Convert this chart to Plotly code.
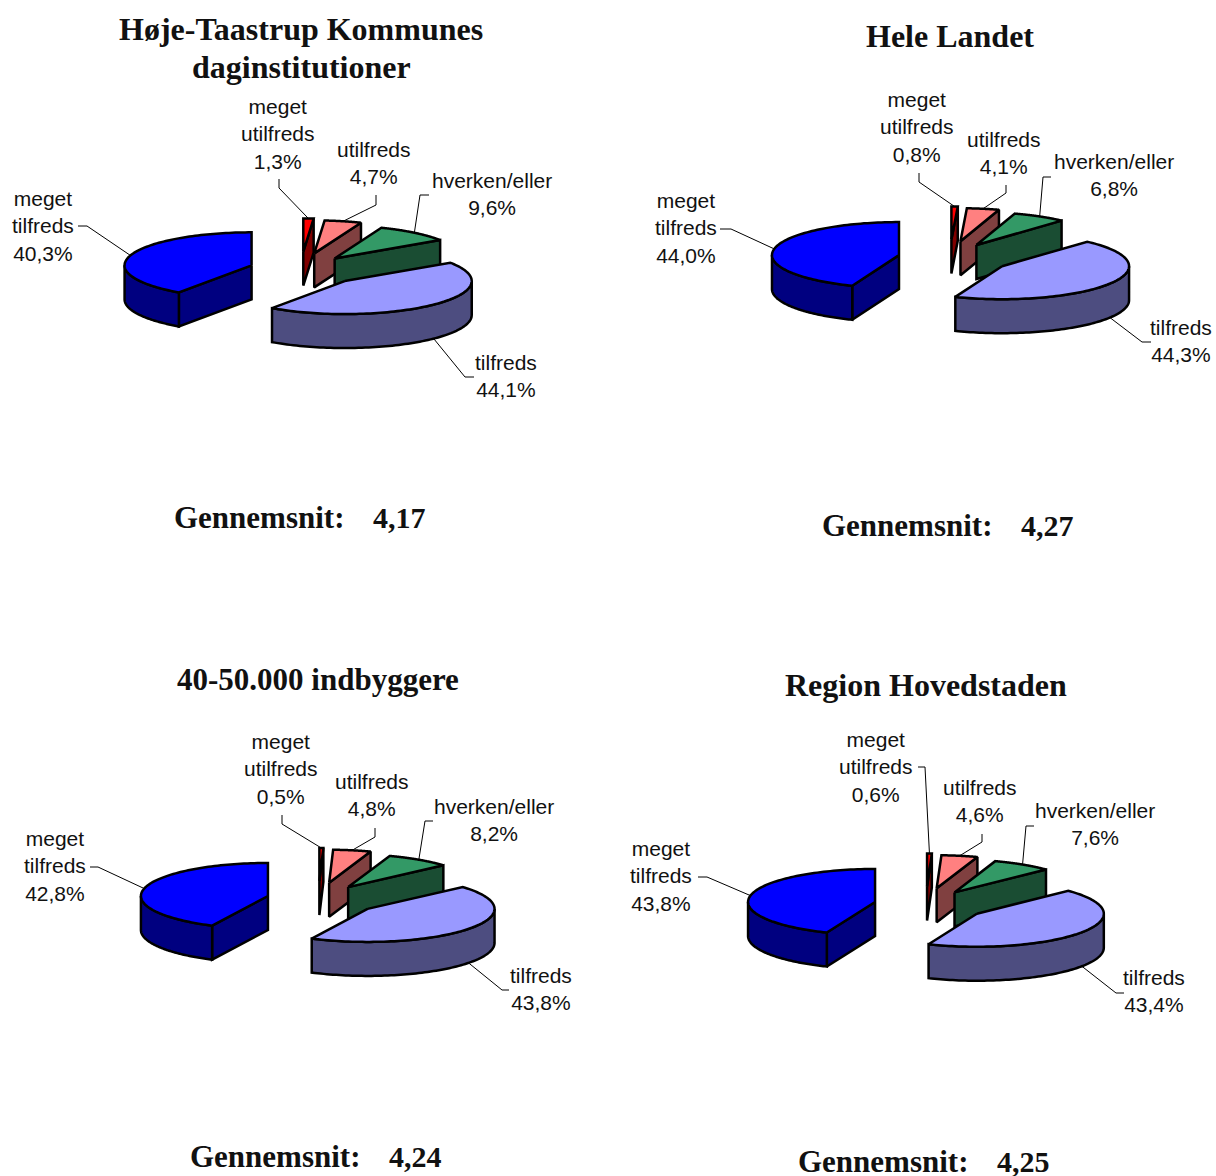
import numpy as np
import plotly.graph_objects as go

# ---- data ----
categories = ["meget utilfreds", "utilfreds", "hverken/eller", "tilfreds", "meget tilfreds"]
hoeje_taastrup = [1.3, 4.7, 9.6, 44.1, 40.3]
hele_landet = [0.8, 4.1, 6.8, 44.3, 44.0]
indbyggere = [0.5, 4.8, 8.2, 43.8, 42.8]
hovedstaden = [0.6, 4.6, 7.6, 43.4, 43.8]
series = [hoeje_taastrup, hele_landet, indbyggere, hovedstaden]
titles = [["Høje-Taastrup Kommunes", "daginstitutioner"], ["Hele Landet"], ["40-50.000 indbyggere"], ["Region Hovedstaden"]]
averages = ["4,17", "4,27", "4,24", "4,25"]

# ---- layout / style ----
W, H = 1216, 1176
RX, RY, DEPTH = 127, 33, 34
EX, EY = 56, 15.5
NUDGE_X = [-4, -3.5, -5.5, 0.5, 0]
NUDGE_Y = [-3, -1.5, 0.5, 0, 0]
TOP = ["#FF0000", "#FF8080", "#339966", "#9999FF", "#0000FF"]
SIDE = ["#800000", "#804040", "#1A4D33", "#4D4D80", "#000080"]
centers = [(305, 270), (954, 258), (322.5, 899.5), (930, 905)]
title_pos = [(301, 29), (950, 36), (318, 679), (926, 685)]
title_sizes = [32, 32, 31, 32]
TITLE_STEP = 38
avg_pos = [(174, 517), (822, 525), (190, 1156), (798, 1161)]
AVG_VALUE_DX = 199
label_pos = [
    [(278, 134), (374, 163), (492, 194), (506, 376), (43, 226)],
    [(917, 127), (1004, 153), (1114, 175), (1181, 341), (686, 228)],
    [(281, 769), (372, 795), (494, 820), (541, 989), (55, 866)],
    [(876, 767), (980, 801), (1095, 824), (1154, 991), (661, 876)],
]
# leader start and elbow, in the order of the categories
leaders = [
    [((279, 179), (279, 188)), ((376, 195), (376, 205)), ((429, 195), (420, 195)), ((474, 377), (465, 377)), ((78, 226), (87, 226))],
    [((919, 173), (919, 182)), ((1006, 185), (1006, 193)), ((1051, 177), (1043, 177)), ((1151, 342), (1142, 342)), ((720, 229), (731, 229))],
    [((282, 815), (282, 824)), ((375, 828), (375, 837)), ((433, 821), (425, 821)), ((509, 990), (502, 990)), ((90, 867), (98, 867))],
    [((918, 767), (925, 767)), ((982, 834), (982, 842)), ((1034, 826), (1026, 826)), ((1124, 993), (1116, 993)), ((698, 877), (707, 877))],
]
LABEL_FONT = dict(family="Liberation Sans", size=21, color="#111111")
AVG_FONT = dict(family="Liberation Serif", size=31, color="#111111")
AVG_VALUE_FONT = dict(family="Liberation Serif", size=30, color="#111111")

fig = go.Figure()


def poly(xs, ys, color):
    xs, ys = list(xs), list(ys)
    fig.add_trace(go.Scatter(x=xs + xs[:1], y=ys + ys[:1], mode="lines", fill="toself",
                             fillcolor=color, line=dict(color="black", width=2.5, simplify=False),
                             hoverinfo="skip", showlegend=False))


def wedge(cx, cy, a0, a1, top, side, i):
    """Angles in radians, clockwise from 12 o'clock, for one exploded slice."""
    mid = (a0 + a1) / 2
    ax = cx + EX * np.sin(mid) + NUDGE_X[i]
    ay = cy - EY * np.cos(mid) + NUDGE_Y[i]
    px = lambda a: ax + RX * np.sin(a)
    py = lambda a: ay - RY * np.cos(a)
    # visible cut faces
    if np.sin(a1) > 0:
        poly([ax, px(a1), px(a1), ax], [ay, py(a1), py(a1) + DEPTH, ay + DEPTH], side)
    if np.sin(a0) < 0:
        poly([ax, px(a0), px(a0), ax], [ay, py(a0), py(a0) + DEPTH, ay + DEPTH], side)
    # visible outer wall: the part of the rim on the viewer's side
    lo, hi = max(a0, np.pi / 2), min(a1, 3 * np.pi / 2)
    if hi > lo:
        t = np.linspace(lo, hi, 80)
        poly(np.r_[px(t), px(t[::-1])], np.r_[py(t), py(t[::-1]) + DEPTH], side)
    # top face
    t = np.linspace(a0, a1, 100)
    poly(np.r_[ax, px(t)], np.r_[ay, py(t)], top)
    return ax, ay, px(mid), py(mid), mid


def text(x, y, s, font, xanchor="center"):
    fig.add_annotation(x=x, y=y, text=s, showarrow=False, font=font, xanchor=xanchor, yanchor="middle",
                       align="center", xref="x", yref="y", borderpad=0, borderwidth=0)


for p, values in enumerate(series):
    cx, cy = centers[p]
    edges = np.r_[0, np.cumsum(values)] / np.sum(values) * 2 * np.pi
    for i in range(len(values)):
        ax, ay, ox, oy, mid = wedge(cx, cy, edges[i], edges[i + 1], TOP[i], SIDE[i], i)
        if np.pi / 2 < mid < 3 * np.pi / 2:
            oy += DEPTH
        start, elbow = leaders[p][i]
        fig.add_trace(go.Scatter(x=[start[0], elbow[0], ox], y=[start[1], elbow[1], oy], mode="lines",
                                 line=dict(color="black", width=1), hoverinfo="skip", showlegend=False))
        name = categories[i].replace(" ", "<br>")
        pct = f"{values[i]:.1f}".replace(".", ",") + "%"
        text(*label_pos[p][i], f"{name}<br>{pct}", LABEL_FONT)
    title_font = dict(family="Liberation Serif", size=title_sizes[p], color="#111111")
    for k, line in enumerate(titles[p]):
        text(title_pos[p][0], title_pos[p][1] + k * TITLE_STEP, f"<b>{line}</b>", title_font)
    text(*avg_pos[p], "<b>Gennemsnit:</b>", AVG_FONT, xanchor="left")
    text(avg_pos[p][0] + AVG_VALUE_DX, avg_pos[p][1], f"<b>{averages[p]}</b>", AVG_VALUE_FONT, xanchor="left")

fig.update_layout(
    width=W, height=H, autosize=False, margin=dict(l=0, r=0, t=0, b=0),
    paper_bgcolor="white", plot_bgcolor="white", showlegend=False,
    xaxis=dict(range=[0, W], visible=False, fixedrange=True),
    yaxis=dict(range=[H, 0], visible=False, fixedrange=True),
)
fig.write_html("out.html", config=dict(displayModeBar=False),
               post_script="document.body.style.margin='0';document.body.style.overflow='hidden';")
